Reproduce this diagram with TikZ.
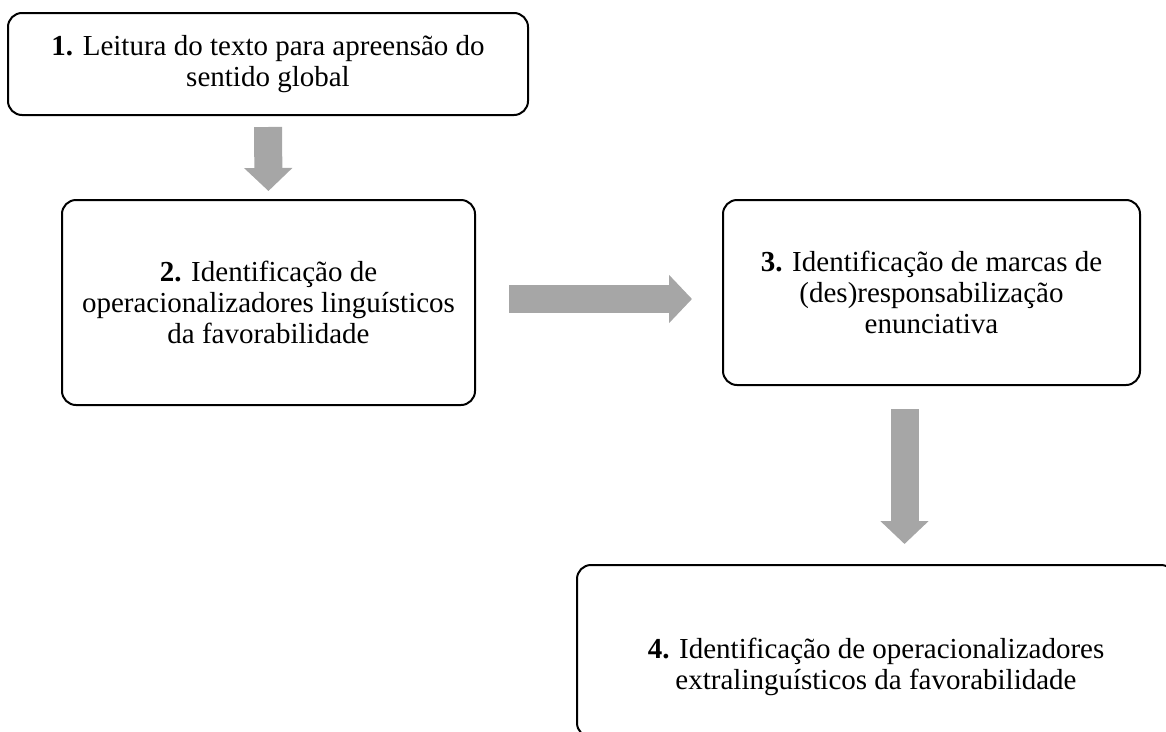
\documentclass[tikz,border=0pt]{standalone}
\usepackage{fontspec}
\setmainfont{Liberation Serif}
\usetikzlibrary{arrows.meta}
\definecolor{arrowgray}{RGB}{166,166,166}
\tikzset{stepbox/.style={draw=black, line width=2pt, rounded corners=14pt, inner sep=0pt, align=center,
  font=\fontsize{29pt}{31pt}\selectfont},
%text without a frame, same font
steptext/.style={align=center, inner sep=0pt, font=\fontsize{29pt}{31pt}\selectfont},
flowarrow/.style={arrowgray, line width=28pt, -{Triangle[length=23pt,width=47pt]}}}

\begin{document}
\begin{tikzpicture}[x=1pt,y=-1pt]
\useasboundingbox (0,0) rectangle (1166,731);
\clip (0,0) rectangle (1166,731);

\node[stepbox, minimum width=520pt, minimum height=102pt] (step1) at (268,64)
  {\textbf{1.} Leitura do texto para apreensão do\\ sentido global};
\node[stepbox, minimum width=413pt, minimum height=205pt] (step2) at (268.5,302.5)
  {\textbf{2.} Identificação de\\ operacionalizadores linguísticos\\ da favorabilidade};
\node[stepbox, minimum width=417pt, minimum height=185pt] (step3) at (931.5,292.5)
  {\textbf{3.} Identificação de marcas de\\ (des)responsabilização\\ enunciativa};
\node[stepbox, minimum width=598pt, minimum height=172pt] (step4) at (876,651) {};
\node[steptext] (step4text) at (876,667)
  {\textbf{4.} Identificação de operacionalizadores\\ extralinguísticos da favorabilidade};

\draw[flowarrow, shorten <=11pt, shorten >=8pt] (step1.south) -- (step2.north);
\draw[flowarrow, shorten <=33pt, shorten >=30pt] ([yshift=3.5pt]step2.east) -- ([yshift=-6.5pt]step3.west);
\draw[flowarrow, shorten <=23pt, shorten >=20pt] ([xshift=-27pt]step3.south) -- ([xshift=-27pt]step3.south |- step4.north);
\end{tikzpicture}
\end{document}
